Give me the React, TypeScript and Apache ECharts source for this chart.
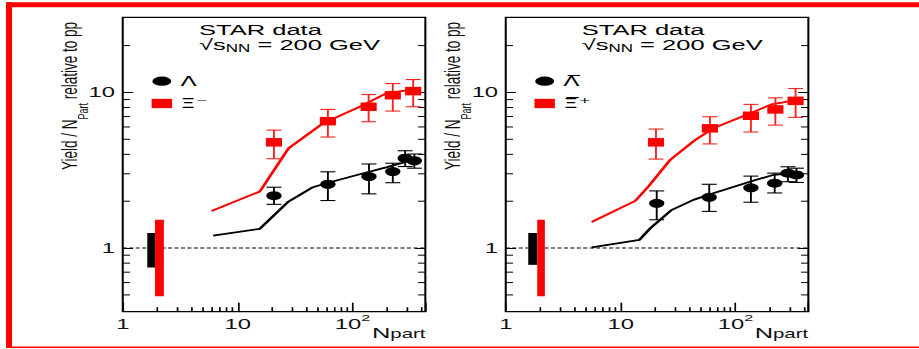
import React, { useEffect, useRef } from 'react';
import * as echarts from 'echarts';

// ---------- data ----------
const X_MIN = 1;
const X_MAX = 430;
const Y_MIN = 0.39;
const Y_MAX = 30.4;
const UNITY = 1;

const xTickValues = [1, 10, 100];
const xTickLabels = ['1', '10', '10^2'];
const yTickValues = [1, 10];
const yTickLabels = ['1', '10'];
const xMinorTicks = [2, 3, 4, 5, 6, 7, 8, 9, 20, 30, 40, 50, 60, 70, 80, 90, 200, 300, 400];
const yMinorTicks = [0.5, 0.6, 0.7, 0.8, 0.9, 2, 3, 4, 5, 6, 7, 8, 9, 20];

// left panel: Lambda and Xi-
const lambdaNpart = [20.7, 61, 139, 224, 287, 345];
const lambdaYield = [2.17, 2.57, 2.88, 3.1, 3.78, 3.64];
const lambdaLow = [1.91, 2.02, 2.23, 2.63, 3.34, 3.26];
const lambdaHigh = [2.46, 3.09, 3.47, 3.51, 4.22, 4.02];
const xiNpart = [20.7, 61, 138, 224, 337];
const xiYield = [4.78, 6.54, 8.09, 9.6, 10.2];
const xiLow = [3.75, 5.17, 6.48, 7.59, 8.09];
const xiHigh = [5.73, 7.78, 9.7, 11.4, 12.1];
const lambdaModelNpart = [6.12, 15.6, 27.7, 45.2, 59.1, 115.6, 196, 334];
const lambdaModel = [1.2, 1.33, 1.99, 2.46, 2.61, 2.98, 3.3, 3.68];
const xiModelNpart = [5.93, 15.6, 27.7, 55.2, 115.6, 196, 334];
const xiModel = [1.73, 2.31, 4.37, 6.33, 8.09, 9.86, 10.45];
const ppBlackLeft = [1.635, 1.91, 0.75, 1.25];
const ppRedLeft = [1.91, 2.28, 0.49, 1.52];

// right panel: anti-Lambda and anti-Xi+
const aLambdaNpart = [20.6, 59, 136, 219, 286, 339];
const aLambdaYield = [1.94, 2.12, 2.44, 2.61, 3.03, 2.95];
const aLambdaLow = [1.52, 1.72, 1.97, 2.26, 2.67, 2.64];
const aLambdaHigh = [2.33, 2.57, 2.9, 3.03, 3.33, 3.26];
const aXiNpart = [20.3, 59.8, 136, 222, 333];
const aXiYield = [4.78, 5.88, 7.08, 7.78, 8.83];
const aXiLow = [3.73, 4.67, 5.57, 6.17, 6.92];
const aXiHigh = [5.82, 6.98, 8.38, 9.23, 10.6];
const aLambdaModelNpart = [5.6, 14.6, 18.1, 27.9, 43, 64, 133, 212, 339];
const aLambdaModel = [1.01, 1.13, 1.34, 1.76, 2.04, 2.25, 2.67, 2.95, 3.03];
const aXiModelNpart = [5.6, 13.4, 17.4, 26.9, 44.3, 63.9, 133, 205, 339];
const aXiModel = [1.47, 2.01, 2.48, 3.68, 4.94, 5.88, 7.33, 8.38, 8.93];
const ppBlackRight = [1.57, 1.88, 0.78, 1.25];
const ppRedRight = [1.88, 2.19, 0.49, 1.52];

const NAME_L = 'Λ';
const NAME_X = 'Ξ⁻';
const NAME_AL = 'Λ\u0305';
const NAME_AX = 'Ξ\u0305⁺';

// ---------- layout ----------
const S = 1.7; // horizontal stretch of the original picture
const CW = 541;
const CH = 349;
const FONT = '"Liberation Sans", Arial, Helvetica, sans-serif';
const LEGEND_FONT = '"DejaVu Sans", "Liberation Sans", sans-serif';
const RED = '#ff0000';
const BLACK = '#000000';
const PANEL_DX = 225.1;

const zip = (a: number[], b: number[]) => a.map((v, i) => [v, b[i]]);
const zip4 = (a: number[], b: number[], c: number[], d: number[]) => a.map((v, i) => [v, b[i], c[i], d[i]]);

const tickLabel = (values: number[], labels: string[]) => (v: number) => {
  for (let i = 0; i < values.length; i++) {
    if (Math.abs(v - values[i]) < 1e-6 * values[i]) {
      const parts = labels[i].split('^');
      return parts.length > 1 ? `{n|${parts[0]}}{sup|${parts[1]}}` : `{n|${parts[0]}}`;
    }
  }
  return '';
};

const xLabelRich = {
  n: { fontSize: 14, lineHeight: 18, verticalAlign: 'bottom', color: '#111', fontFamily: FONT },
  sup: { fontSize: 9.5, lineHeight: 10, verticalAlign: 'top', color: '#111', fontFamily: FONT },
};
const yLabelRich = {
  n: { fontSize: 14, lineHeight: 16, verticalAlign: 'middle', color: '#111', fontFamily: FONT },
};

const tickLine = (x1: number, y1: number, x2: number, y2: number) => ({
  type: 'line',
  shape: { x1, y1, x2, y2 },
  style: { stroke: BLACK, lineWidth: 1 },
});

const xTickRender = (params: any, api: any) => {
  const p = api.coord([api.value(0), Y_MIN]);
  return tickLine(p[0], p[1], p[0], p[1] - 4.5);
};
const yTickRender = (params: any, api: any) => {
  const pl = api.coord([X_MIN, api.value(1)]);
  const pr = api.coord([X_MAX, api.value(1)]);
  return {
    type: 'group',
    children: [tickLine(pl[0], pl[1], pl[0] + 4.3, pl[1]), tickLine(pr[0], pr[1], pr[0] - 4.3, pr[1])],
  };
};
const errRender = (color: string) => (params: any, api: any) => {
  const x = api.value(0);
  const top = api.coord([x, api.value(3)]);
  const bot = api.coord([x, api.value(2)]);
  const hw = 4.4;
  const st = { stroke: color, lineWidth: 1.1 };
  return {
    type: 'group',
    children: [
      { type: 'line', shape: { x1: top[0], y1: top[1], x2: bot[0], y2: bot[1] }, style: st },
      { type: 'line', shape: { x1: top[0] - hw, y1: top[1], x2: top[0] + hw, y2: top[1] }, style: st },
      { type: 'line', shape: { x1: bot[0] - hw, y1: bot[1], x2: bot[0] + hw, y2: bot[1] }, style: st },
    ],
  };
};
const boxRender = (color: string) => (params: any, api: any) => {
  const p0 = api.coord([api.value(0), api.value(3)]);
  const p1 = api.coord([api.value(1), api.value(2)]);
  return {
    type: 'rect',
    shape: { x: p0[0], y: p0[1], width: p1[0] - p0[0], height: p1[1] - p0[1] },
    style: { fill: color },
  };
};

const ELLIPSE = 'path://M0,5a6,5 0 1,0 12,0a6,5 0 1,0 -12,0z';

function panelSeries(gi: number, d: any) {
  const xi = gi;
  const yi = gi * 2;
  const base = { xAxisIndex: xi, yAxisIndex: yi };
  return [
    { ...base, type: 'custom', name: 'xticks' + gi, data: xMinorTicks.map((v) => [v, Y_MIN]), renderItem: xTickRender, silent: true, z: 4 },
    { ...base, type: 'custom', name: 'yticks' + gi, data: yMinorTicks.map((v) => [X_MIN, v]), renderItem: yTickRender, silent: true, z: 4 },
    { ...base, type: 'custom', name: 'ppB' + gi, data: [d.ppBlack], encode: { x: [0, 1], y: [2, 3] }, renderItem: boxRender(BLACK), silent: true, z: 3 },
    { ...base, type: 'custom', name: 'ppR' + gi, data: [d.ppRed], encode: { x: [0, 1], y: [2, 3] }, renderItem: boxRender(RED), silent: true, z: 3 },
    {
      ...base, type: 'line', name: 'unity' + gi, data: [[X_MIN, UNITY], [X_MAX, UNITY]], symbol: 'none', silent: true, z: 2,
      lineStyle: { color: BLACK, width: 1, type: [2.4, 1.4] },
    },
    {
      ...base, type: 'line', name: 'modelL' + gi, data: zip(d.lmx, d.lm), symbol: 'none', silent: true, z: 5,
      lineStyle: { color: BLACK, width: 1.8 },
    },
    {
      ...base, type: 'line', name: 'modelX' + gi, data: zip(d.xmx, d.xm), symbol: 'none', silent: true, z: 5,
      lineStyle: { color: RED, width: 1.8 },
    },
    { ...base, type: 'custom', name: 'errL' + gi, data: zip4(d.lx, d.ly, d.llo, d.lhi), encode: { x: 0, y: 1 }, renderItem: errRender(BLACK), silent: true, z: 6 },
    { ...base, type: 'custom', name: 'errX' + gi, data: zip4(d.xx, d.xy, d.xlo, d.xhi), encode: { x: 0, y: 1 }, renderItem: errRender('#ff2020'), silent: true, z: 6 },
    { ...base, type: 'scatter', name: d.nameL, data: zip(d.lx, d.ly), symbol: 'circle', symbolSize: 9, itemStyle: { color: BLACK, opacity: 1 }, z: 7 },
    { ...base, type: 'scatter', name: d.nameX, data: zip(d.xx, d.xy), symbol: 'rect', symbolSize: [9.5, 8.5], itemStyle: { color: RED, opacity: 1 }, z: 7 },
  ];
}

const leftData = {
  ppBlack: ppBlackLeft, ppRed: ppRedLeft,
  lmx: lambdaModelNpart, lm: lambdaModel, xmx: xiModelNpart, xm: xiModel,
  lx: lambdaNpart, ly: lambdaYield, llo: lambdaLow, lhi: lambdaHigh,
  xx: xiNpart, xy: xiYield, xlo: xiLow, xhi: xiHigh,
  nameL: NAME_L, nameX: NAME_X,
};
const rightData = {
  ppBlack: ppBlackRight, ppRed: ppRedRight,
  lmx: aLambdaModelNpart, lm: aLambdaModel, xmx: aXiModelNpart, xm: aXiModel,
  lx: aLambdaNpart, ly: aLambdaYield, llo: aLambdaLow, lhi: aLambdaHigh,
  xx: aXiNpart, xy: aXiYield, xlo: aXiLow, xhi: aXiHigh,
  nameL: NAME_AL, nameX: NAME_AX,
};

const xAxisOf = (gi: number) => ({
  type: 'log', logBase: 10, gridIndex: gi, min: X_MIN, max: X_MAX,
  axisLine: { show: false },
  axisTick: { show: true, inside: true, length: 9, lineStyle: { color: BLACK, width: 1 } },
  splitLine: { show: false },
  axisLabel: { margin: 1, formatter: tickLabel(xTickValues, xTickLabels), rich: xLabelRich, color: '#111' },
});
const yAxisOf = (gi: number, pos: 'left' | 'right') => ({
  type: 'log', logBase: 10, gridIndex: gi, min: Y_MIN, max: Y_MAX, position: pos,
  axisLine: { show: false },
  axisTick: { show: true, inside: true, length: 6, lineStyle: { color: BLACK, width: 1 } },
  splitLine: { show: false },
  axisLabel: pos === 'left'
    ? { margin: 4.5, formatter: tickLabel(yTickValues, yTickLabels), rich: yLabelRich, color: '#111' }
    : { show: false },
});

const legendOf = (left: number, names: string[]) => ({
  orient: 'vertical', left, top: 74.2, padding: 0, itemGap: 8.3,
  itemWidth: 12, itemHeight: 9.3, selectedMode: false,
  data: [{ name: names[0], icon: ELLIPSE }, { name: names[1], icon: 'rect' }],
  textStyle: { fontSize: 14, color: BLACK, fontFamily: LEGEND_FONT },
});

function panelTexts(dx: number) {
  return [
    {
      type: 'text', x: 117.1 + dx, y: 29.2,
      style: { text: 'STAR data', fontSize: 15, fontFamily: FONT, fill: BLACK, align: 'left', verticalAlign: 'middle' },
    },
    {
      type: 'text', x: 117.1 + dx, y: 45.5,
      style: {
        text: '{m|√s}{sub|NN}{m| = 200 GeV}', align: 'left', verticalAlign: 'middle', fill: BLACK, fontFamily: FONT,
        rich: {
          m: { fontSize: 15, lineHeight: 16, verticalAlign: 'top', fill: BLACK, fontFamily: FONT },
          sub: { fontSize: 10, lineHeight: 16, verticalAlign: 'bottom', fill: BLACK, fontFamily: FONT },
        },
      },
    },
    {
      type: 'text', x: 43.6 + dx, y: 22, rotation: Math.PI / 2,
      style: {
        text: '{m|Yield / N}{s|Part}{m| relative to pp}', align: 'right', verticalAlign: 'middle', fill: '#111', fontFamily: FONT,
        rich: {
          m: { fontSize: 13.5, lineHeight: 14, verticalAlign: 'top', fill: '#111', fontFamily: FONT },
          s: { fontSize: 9, lineHeight: 19.5, verticalAlign: 'bottom', fill: '#111', fontFamily: FONT },
        },
      },
    },
    {
      type: 'text', x: 218.8 + dx, y: 332.3,
      style: {
        text: '{n|N}{s|part}', align: 'left', verticalAlign: 'middle', fill: '#111', fontFamily: FONT,
        rich: {
          n: { fontSize: 15, lineHeight: 16, verticalAlign: 'bottom', fill: '#111', fontFamily: FONT },
          s: { fontSize: 12, lineHeight: 15, verticalAlign: 'bottom', fill: '#111', fontFamily: FONT },
        },
      },
    },
  ];
}

const option: any = {
  animation: false,
  backgroundColor: '#ffffff',
  textStyle: { fontFamily: FONT },
  grid: [
    { left: 72.2, top: 17.3, width: 178, height: 294.4, show: true, borderColor: BLACK, borderWidth: 1.2, backgroundColor: 'transparent' },
    { left: 297.5, top: 17.3, width: 178, height: 294.4, show: true, borderColor: BLACK, borderWidth: 1.2, backgroundColor: 'transparent' },
  ],
  xAxis: [xAxisOf(0), xAxisOf(1)],
  yAxis: [yAxisOf(0, 'left'), yAxisOf(0, 'right'), yAxisOf(1, 'left'), yAxisOf(1, 'right')],
  legend: [legendOf(89.2, [NAME_L, NAME_X]), legendOf(314.4, [NAME_AL, NAME_AX])],
  series: [...panelSeries(0, leftData), ...panelSeries(1, rightData)],
  graphic: [
    { type: 'rect', shape: { x: 3.53, y: 2.3, width: CW - 3.53, height: 5 }, style: { fill: RED } },
    { type: 'rect', shape: { x: 3.53, y: 2.3, width: 3.53, height: 345.7 }, style: { fill: RED } },
    { type: 'rect', shape: { x: 7, y: 346.6, width: CW - 7, height: 1.4 }, style: { fill: RED } },
    ...panelTexts(0),
    ...panelTexts(PANEL_DX),
  ],
};

export default function App() {
  const ref = useRef<HTMLDivElement>(null);
  useEffect(() => {
    if (!ref.current) return;
    const chart = echarts.init(ref.current, undefined, { renderer: 'svg', width: CW, height: CH });
    chart.setOption(option);
    return () => chart.dispose();
  }, []);
  return (
    <div style={{ position: 'absolute', left: 0, top: 0, width: 919, height: CH, overflow: 'hidden', background: '#fff' }}>
      <div
        ref={ref}
        style={{ width: CW, height: CH, transform: `scaleX(${S})`, transformOrigin: '0 0' }}
      />
    </div>
  );
}
